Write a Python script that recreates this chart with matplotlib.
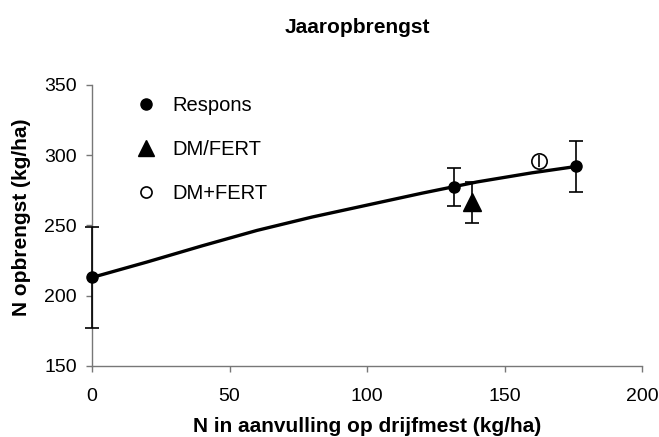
import matplotlib
matplotlib.use("Agg")
import matplotlib.pyplot as plt
from matplotlib.lines import Line2D

plt.rcParams['font.family'] = ['Liberation Sans', 'DejaVu Sans']

# fitted response line
curve_x = [0, 20, 40, 60, 80, 100, 120, 140, 160, 176]
curve_y = [213, 224, 235.5, 246.5, 256, 264.5, 273, 281, 287.5, 292]

# measured points
resp_x = [0, 131.5, 176]
resp_y = [213, 277.5, 292]
resp_err = [36, 13.5, 18]

dmfert_x = [138]
dmfert_y = [266.5]
dmfert_err = [14.5]

dmplus_x = [162.5]
dmplus_y = [296]
dmplus_err = [4.5]

fig = plt.figure(figsize=(6.59, 4.37), dpi=100)
ax = fig.add_axes([0.1396, 0.1625, 0.8347, 0.643])

ax.plot(curve_x, curve_y, color='black', lw=2.4, zorder=2)
eb1 = ax.errorbar(resp_x, resp_y, yerr=resp_err, fmt='o', color='black', ms=8,
                  capsize=5, elinewidth=1.2, capthick=1.2, zorder=3)
eb2 = ax.errorbar(dmfert_x, dmfert_y, yerr=dmfert_err, fmt='^', color='black', ms=13,
                  capsize=5, elinewidth=1.2, capthick=1.2, zorder=3)
ax.plot(dmplus_x, dmplus_y, 'o', mfc='white', mec='black', ms=11, mew=1.2, zorder=3)
eb3 = ax.errorbar(dmplus_x, dmplus_y, yerr=dmplus_err, fmt='none', ecolor='black',
                  elinewidth=1.2, capsize=0, zorder=4)
for eb in (eb1, eb2, eb3):
    for art in eb.get_children():
        art.set_clip_on(False)

ax.set_xlim(0, 200)
ax.set_ylim(150, 350)
ax.set_xticks([0, 50, 100, 150, 200])
ax.set_yticks([150, 200, 250, 300, 350])

for s in ['top', 'right']:
    ax.spines[s].set_visible(False)
for s in ['left', 'bottom']:
    ax.spines[s].set_color('#777777')
    ax.spines[s].set_linewidth(1.0)
ax.tick_params(direction='out', length=4, width=1, color='#777777', labelsize=14)
ax.tick_params(axis='y', pad=7)
ax.tick_params(axis='x', pad=12)

fig.text(0.5425, 0.938, 'Jaaropbrengst', fontsize=15, fontweight='bold',
         ha='center', va='center')
ax.set_xlabel('N in aanvulling op drijfmest (kg/ha)', fontsize=15, fontweight='bold')
ax.set_ylabel('N opbrengst (kg/ha)', fontsize=15, fontweight='bold')
ax.xaxis.set_label_coords(0.5, -0.183)
ax.yaxis.set_label_coords(-0.11, 0.53)

handles = [
    Line2D([], [], ls='none', marker='o', color='black', ms=8),
    Line2D([], [], ls='none', marker='^', color='black', ms=11),
    Line2D([], [], ls='none', marker='o', mfc='white', mec='black', ms=8, mew=1.2),
]
ax.legend(handles, ['Respons', 'DM/FERT', 'DM+FERT'], loc='upper left',
          bbox_to_anchor=(0.047, 1.025), frameon=False, fontsize=14.5,
          handlelength=1.0, handletextpad=0.8, labelspacing=1.25)

fig.savefig('out.png', dpi=100)
